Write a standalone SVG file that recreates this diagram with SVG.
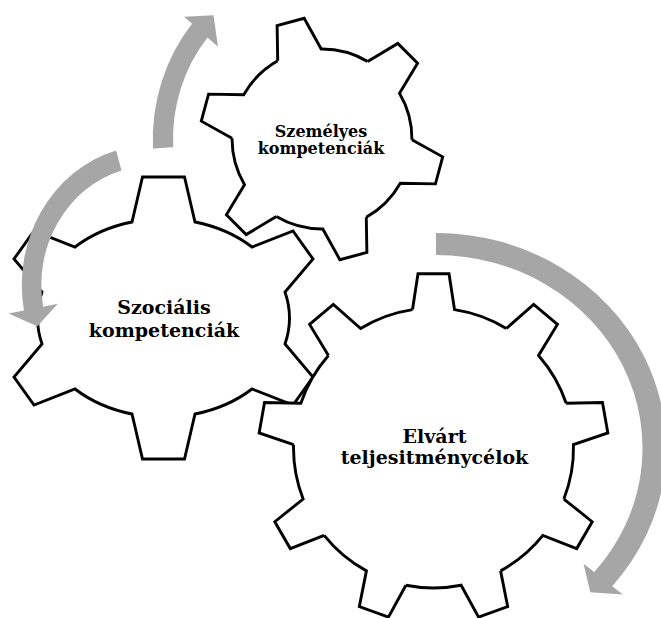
<svg xmlns="http://www.w3.org/2000/svg" xmlns:xlink="http://www.w3.org/1999/xlink" width="661" height="618" viewBox="0 0 661 618">
<defs>
<style>
.gf{fill:#fff;stroke:none}
.gs{fill:none;stroke:#000;stroke-width:2.9;stroke-linejoin:miter;stroke-miterlimit:8}
.arrow{fill:#a6a6a6;stroke:none}
.lbl{font-family:"DejaVu Serif","Liberation Serif",serif;font-weight:bold;fill:#000;text-anchor:middle}
</style>
<path id="tooth-s" d="M-22.5,-87.1 L-14,-121.2 L14,-121.2 L22.5,-87.1 A90,90 0 0 1 64.18,-63.04"/>
<path id="tooth-b" d="M-21,-138.42 L-15.5,-174.31 L15.5,-174.31 L21,-138.42 A140,140 0 0 1 72.89,-119.53"/>
</defs>
<rect width="661" height="618" fill="#fff"/>

<g id="gear-szemelyes" transform="translate(322 139)">
  <g transform="rotate(-15)">
    <g class="gf">
      <circle r="90"/>
      <use href="#tooth-s"/><use href="#tooth-s" transform="rotate(60)"/><use href="#tooth-s" transform="rotate(120)"/>
      <use href="#tooth-s" transform="rotate(180)"/><use href="#tooth-s" transform="rotate(240)"/><use href="#tooth-s" transform="rotate(300)"/>
    </g>
    <g class="gs">
      <use href="#tooth-s"/><use href="#tooth-s" transform="rotate(60)"/><use href="#tooth-s" transform="rotate(120)"/>
      <use href="#tooth-s" transform="rotate(180)"/><use href="#tooth-s" transform="rotate(240)"/><use href="#tooth-s" transform="rotate(300)"/>
    </g>
  </g>
  <text class="lbl" font-size="16" x="-1" y="-2.5">Személyes</text>
  <text class="lbl" font-size="16" x="-1" y="15">kompetenciák</text>
</g>

<g id="gear-szocialis">
  <path class="gs" fill="#fff" style="fill:#fff" d="M132,222 L142.5,177 L184.5,177 L195,222 A126,99 0 0 1 252,247 L293,231 L313,259 L285,292 A126,99 0 0 1 285,344 L313,377 L293,405 L252,389 A126,99 0 0 1 195,414 L184.5,459 L142.5,459 L132,414 A126,99 0 0 1 75,389 L34,405 L14,377 L42,344 A126,99 0 0 1 42,292 L14,259 L34,231 L75,247 A126,99 0 0 1 132,222 Z"/>
  <text class="lbl" font-size="19" x="164" y="313.5">Szociális</text>
  <text class="lbl" font-size="19" x="164" y="336.5">kompetenciák</text>
</g>

<g id="gear-elvart" transform="translate(433.5 448)">
  <g class="gf">
    <circle r="140"/>
    <use href="#tooth-b"/><use href="#tooth-b" transform="rotate(40)"/><use href="#tooth-b" transform="rotate(80)"/>
    <use href="#tooth-b" transform="rotate(120)"/><use href="#tooth-b" transform="rotate(160)"/><use href="#tooth-b" transform="rotate(200)"/>
    <use href="#tooth-b" transform="rotate(240)"/><use href="#tooth-b" transform="rotate(280)"/><use href="#tooth-b" transform="rotate(320)"/>
  </g>
  <g class="gs">
    <use href="#tooth-b"/><use href="#tooth-b" transform="rotate(40)"/><use href="#tooth-b" transform="rotate(80)"/>
    <use href="#tooth-b" transform="rotate(120)"/><use href="#tooth-b" transform="rotate(160)"/><use href="#tooth-b" transform="rotate(200)"/>
    <use href="#tooth-b" transform="rotate(240)"/><use href="#tooth-b" transform="rotate(280)"/><use href="#tooth-b" transform="rotate(320)"/>
  </g>
  <text class="lbl" font-size="19" x="1" y="-5">Elvárt</text>
  <text class="lbl" font-size="19" x="1" y="16">teljesitménycélok</text>
</g>

<g id="connectors">
  <path class="arrow" transform="translate(322 139) scale(0.94 1)" d="M-179.75,9.42 A180,180 0 0 1 -138.29,-115.22 L-146.75,-122.26 L-115.46,-123.82 L-110.64,-92.17 L-121.78,-101.46 A158.5,158.5 0 0 0 -158.28,8.30 Z"/>
  <path class="arrow" transform="translate(152 285) scale(0.93 1)" d="M-38.59,-134.58 A140,140 0 0 0 -137.66,25.51 L-154.38,28.61 L-123.28,41.25 L-101.28,18.77 L-117.01,21.68 A119,119 0 0 1 -32.80,-114.39 Z"/>
  <path class="arrow" transform="translate(436 448) scale(1.07 1)" d="M0,-215 A215,215 0 0 1 164.70,138.20 L174.66,146.56 L144.25,144.25 L137.89,115.70 L147.85,124.06 A193,193 0 0 0 0,-193 Z"/>
</g>
</svg>
